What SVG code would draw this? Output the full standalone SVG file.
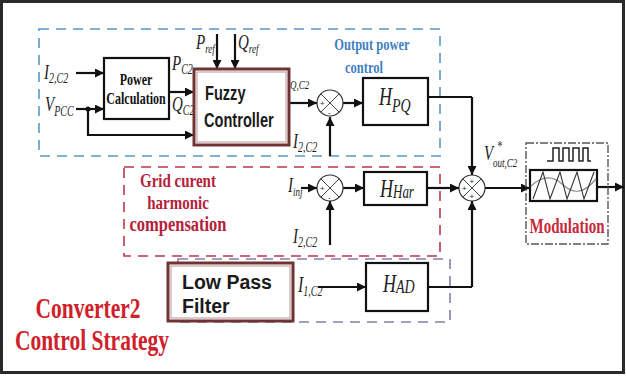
<svg xmlns="http://www.w3.org/2000/svg" width="626" height="376" viewBox="0 0 626 376">
<defs>
<style>
.frame{fill:#fff;stroke:#2a2a2a;stroke-width:3}
.blk{fill:#fff;stroke:#111;stroke-width:2.2}
.brown{fill:#fff;stroke:#6e3434;stroke-width:3}
.brown2{fill:none;stroke:#c9a3a3;stroke-width:1.2}
.dblue{fill:none;stroke:#5b98c6;stroke-width:1.6;stroke-dasharray:10 7}
.dred{fill:none;stroke:#b9374f;stroke-width:1.6;stroke-dasharray:10 7}
.dpur{fill:none;stroke:#8a7ca6;stroke-width:1.6;stroke-dasharray:10 7}
.dmod{fill:none;stroke:#555;stroke-width:1.4;stroke-dasharray:8 2 2 2}
.ln{fill:none;stroke:#111;stroke-width:2.2}
.arr{fill:none;stroke:#111;stroke-width:2.2;marker-end:url(#ah)}
.sum{fill:#fff;stroke:#333;stroke-width:1.2}
.x{stroke:#444;stroke-width:1}
.sg{font-family:"Liberation Sans",Arial,sans-serif;font-size:8px;fill:#222}
.var{font-family:"Liberation Serif","Times New Roman",serif;font-style:italic;fill:#222}
.ser{font-family:"Liberation Serif","Times New Roman",serif;font-weight:bold}
.san{font-family:"Liberation Sans",Arial,sans-serif;font-weight:bold;fill:#1a1a1a}
.blue{fill:#3f7fbf}
.red{fill:#b4223a}
.red2{fill:#d0202a}
</style>
<marker id="ah" viewBox="0 0 10 10" refX="10" refY="5" markerWidth="10" markerHeight="9" markerUnits="userSpaceOnUse" orient="auto"><path d="M0,0 L10,5 L0,10 z" fill="#111"/></marker>
</defs>

<rect class="frame" x="1.5" y="1.5" width="622" height="371"/>

<g id="regions">
<rect class="dblue" x="39" y="29" width="401" height="127"/>
<rect class="dred" x="124" y="167" width="316" height="89"/>
<rect class="dpur" x="178" y="259" width="272" height="63"/>
<text class="ser blue" font-size="12.5" text-anchor="middle" transform="translate(372,50) scale(1,1.4)">Output power</text>
<text class="ser blue" font-size="12.5" text-anchor="middle" transform="translate(364,73) scale(1,1.4)">control</text>
<text class="ser red" font-size="15" text-anchor="middle" transform="translate(178,187) scale(1,1.3)">Grid curent</text>
<text class="ser red" font-size="15" text-anchor="middle" transform="translate(178,209) scale(1,1.3)">harmonic</text>
<text class="ser red" font-size="16.5" text-anchor="middle" transform="translate(178,231) scale(1,1.25)">compensation</text>
<text class="ser red2" font-size="21.5" text-anchor="middle" transform="translate(88,318) scale(1,1.4)">Converter2</text>
<text class="ser red2" font-size="21.5" text-anchor="middle" transform="translate(92,350) scale(1,1.4)">Control Strategy</text>
</g>

<g id="labels">
<text class="var" font-size="15" transform="translate(44,79) scale(1,1.4)">I<tspan font-size="10" dy="2.5">2,C2</tspan></text>
<text class="var" font-size="15" transform="translate(45,111) scale(1,1.4)">V<tspan font-size="10" dy="3.5">PCC</tspan></text>
<text class="var" font-size="15" transform="translate(196,49) scale(1,1.4)">P<tspan font-size="9" dy="2.5">ref</tspan></text>
<text class="var" font-size="15" transform="translate(238,49) scale(1,1.4)">Q<tspan font-size="9" dy="2.5">ref</tspan></text>
<text class="var" font-size="15" transform="translate(172,70) scale(1,1.4)">P<tspan font-size="10" dy="2.5">C2</tspan></text>
<text class="var" font-size="15" transform="translate(172,111) scale(1,1.4)">Q<tspan font-size="10" dy="2.5">C2</tspan></text>
<text class="var" font-size="9" transform="translate(290,89) scale(1,1.4)">Q,C2</text>
<text class="var" font-size="15" transform="translate(293,148) scale(1,1.4)">I<tspan font-size="10" dy="2.5">2,C2</tspan></text>
<text class="var" font-size="15" transform="translate(288,192) scale(1,1.4)">I<tspan font-size="9" dy="2.5">inj</tspan></text>
<text class="var" font-size="15" transform="translate(293,243) scale(1,1.4)">I<tspan font-size="10" dy="2.5">2,C2</tspan></text>
<text class="var" font-size="16" transform="translate(298,292) scale(1,1.4)">I<tspan font-size="10" dy="2.5">1,C2</tspan></text>
<text class="var" font-size="15" transform="translate(484,160) scale(1,1.4)">V</text>
<text class="var" font-size="10" transform="translate(497,151) scale(1,1.4)">*</text>
<text class="var" font-size="9" transform="translate(493,167) scale(1,1.4)">out,C2</text>
</g>

<g id="connectors">
<path class="arr" d="M76,73 H104"/>
<path class="arr" d="M76,109 H104"/>
<circle cx="88" cy="109" r="2.5" fill="#111"/>
<path class="arr" d="M88,109 V135 H194"/>
<path class="arr" d="M169,92 H194"/>
<path class="arr" d="M217,34 V69"/>
<path class="arr" d="M235,34 V69"/>
<path class="arr" d="M290,103 H317"/>
<path class="arr" d="M343,103 H363"/>
<path class="arr" d="M330,156 V117"/>
<path class="ln" d="M428,97 H472"/>
<path class="arr" d="M472,97 V175"/>
<path class="arr" d="M301,188 H317"/>
<path class="arr" d="M343,188 H364"/>
<path class="arr" d="M330,245 V201"/>
<path class="arr" d="M427,188 H459"/>
<path class="arr" d="M318,287 H366"/>
<path class="ln" d="M428,287 H472"/>
<path class="arr" d="M472,287 V201"/>
<path class="arr" d="M485,188 H530"/>
<path class="arr" d="M597,187 H624"/>
</g>

<g id="power-calc">
<rect class="blk" x="104" y="58" width="65" height="61"/>
<text class="ser" font-size="12" fill="#111" text-anchor="middle" transform="translate(136,85) scale(1,1.35)">Power</text>
<text class="ser" font-size="12" fill="#111" text-anchor="middle" transform="translate(136,104) scale(1,1.35)">Calculation</text>
</g>

<g id="fuzzy">
<rect class="brown" x="194" y="69" width="95" height="76"/>
<rect class="brown2" x="197" y="72" width="89" height="70"/>
<text class="san" font-size="14.6" transform="translate(205,100) scale(1,1.4)">Fuzzy</text>
<text class="san" font-size="14.6" transform="translate(204,127) scale(1,1.4)">Controller</text>
</g>

<g id="sum1">
<circle class="sum" cx="330" cy="103" r="13"/>
<path class="x" d="M320.8,93.8 L339.2,112.2 M339.2,93.8 L320.8,112.2"/>
<text class="sg" x="320" y="106">+</text>
<text class="sg" x="328" y="114.5">-</text>
</g>

<g id="h-pq">
<rect class="blk" x="363" y="78" width="65" height="47"/>
<text class="var" font-size="18" transform="translate(379,105) scale(1,1.4)">H<tspan font-size="14" dy="5">PQ</tspan></text>
</g>

<g id="sum2">
<circle class="sum" cx="330" cy="188" r="13"/>
<path class="x" d="M320.8,178.8 L339.2,197.2 M339.2,178.8 L320.8,197.2"/>
<text class="sg" x="320" y="191">+</text>
<text class="sg" x="328" y="199.5">-</text>
</g>

<g id="h-har">
<rect class="blk" x="364" y="172" width="63" height="33"/>
<text class="var" font-size="18" transform="translate(380,197) scale(1,1.4)">H<tspan font-size="13" dy="1">Har</tspan></text>
</g>

<g id="lpf">
<rect class="brown" x="168" y="263" width="125" height="58"/>
<rect class="brown2" x="171" y="266" width="119" height="52"/>
<text class="san" font-size="19.5" x="182" y="289">Low Pass</text>
<text class="san" font-size="19.5" x="182" y="313">Filter</text>
</g>

<g id="h-ad">
<rect class="blk" x="366" y="263" width="62" height="48"/>
<text class="var" font-size="18" transform="translate(383,292) scale(1,1.4)">H<tspan font-size="14" dy="1">AD</tspan></text>
</g>

<g id="sum3">
<circle class="sum" cx="472" cy="188" r="13"/>
<path class="x" d="M462.8,178.8 L481.2,197.2 M481.2,178.8 L462.8,197.2"/>
<text class="sg" x="469.5" y="184">+</text>
<text class="sg" x="462" y="191">+</text>
<text class="sg" x="469.5" y="199">+</text>
</g>

<g id="modulation">
<rect class="dmod" x="526" y="143" width="82" height="101"/>
<path fill="none" stroke="#222" stroke-width="1.5" d="M547,161 H553 V148 H559 V161 H563 V148 H569 V161 H573 V148 H579 V161 H583 V148 H588 V161 H591"/>
<rect fill="#fff" stroke="#111" stroke-width="2.2" x="530" y="170" width="67" height="31"/>
<path fill="none" stroke="#888" stroke-width="1.2" d="M531,186 C542,176 552,175 562,184 S582,196 596,179"/>
<path fill="none" stroke="#333" stroke-width="1.1" d="M533,199 L543,172 L550,199 L560,172 L567,199 L577,172 L584,199 L594,172"/>
<text class="ser" font-size="15" fill="#c8283a" text-anchor="middle" transform="translate(567,233) scale(1,1.35)">Modulation</text>
</g>
</svg>
